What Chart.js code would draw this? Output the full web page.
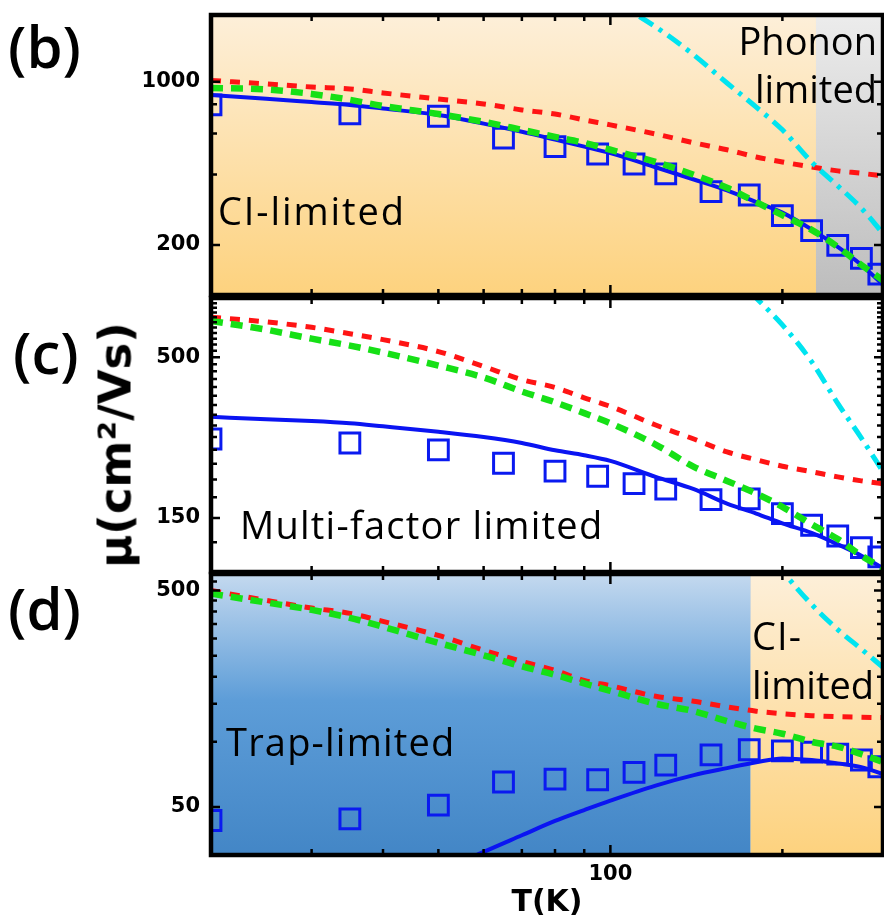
<!DOCTYPE html>
<html>
<head>
<meta charset="utf-8">
<script src="https://cdn.jsdelivr.net/npm/chart.js@4.4.1/dist/chart.umd.min.js"></script>
<style>
  body { margin: 0; background: #fff; }
  #wrap { position: relative; width: 884px; height: 920px; overflow: hidden; background: #fff; }
  canvas { position: absolute; left: 0; }
  .lab { position: absolute; font-family: 'Open Sans', sans-serif; font-size: 38px; line-height: 1; color: #000; white-space: nowrap; }
  .panel { font-size: 58px; font-weight: 600; }
  #ytitle { position: absolute; left: 115px; top: 445px; transform: translate(-50%, -50%) rotate(-90deg);
            font-family: 'DejaVu Sans', sans-serif; font-weight: bold; font-size: 45px; line-height: 1; white-space: nowrap; }
</style>
</head>
<body>
<div id="wrap">
  <canvas id="chartB" width="884" height="300" style="top:0px"></canvas>
  <canvas id="chartC" width="884" height="290" style="top:290px"></canvas>
  <canvas id="chartD" width="884" height="354" style="top:566px"></canvas>

  <div class="lab panel" style="left:8px;top:17px">(b)</div>
  <div class="lab panel" style="left:13px;top:323px">(c)</div>
  <div class="lab panel" style="left:8px;top:579px">(d)</div>
  <div id="ytitle">μ(cm²/Vs)</div>

  <div class="lab" style="left:218px;top:191px;letter-spacing:1.9px">CI-limited</div>
  <div class="lab" style="right:7px;top:21px">Phonon</div>
  <div class="lab" style="right:7px;top:69px">limited</div>
  <div class="lab" style="left:240px;top:505px;letter-spacing:1.25px">Multi-factor limited</div>
  <div class="lab" style="left:226px;top:722px;letter-spacing:1.2px">Trap-limited</div>
  <div class="lab" style="left:752px;top:616px;letter-spacing:1.1px">CI-</div>
  <div class="lab" style="left:752px;top:665px">limited</div>
</div>

<script>
// temperatures (K)
const tMeasured = [20, 35, 50, 65, 80, 95, 110, 125, 150, 175, 200, 225, 250, 275, 295];
const tGrid = [20, 25, 30, 35, 40, 50, 60, 70, 80, 90, 100, 120, 140, 160, 180, 200, 225, 250, 275, 300];
const xTicks = [20, 30, 40, 50, 60, 70, 80, 90, 100, 200, 300];
const xLabels = [100];

// panel (b) - mobility, cm2/Vs
const bMeasured = [795, 728, 711, 573, 527, 490, 444, 403, 338, 327, 267, 230, 199, 175, 150];
const bTotal = [877, 846, 818, 795, 767, 720, 661, 610, 565, 527, 494, 430, 381, 342, 305, 275, 233, 196, 164, 135];
const bGreen = [940, 926, 886, 836, 787, 727, 673, 622, 580, 547, 511, 453, 399, 351, 305, 268, 232, 196, 164, 141];
const bRed = [1012, 978, 949, 931, 895, 843, 803, 757, 727, 686, 653, 597, 547, 511, 476, 453, 431, 415, 405, 395];
const bPhononT = [100, 120, 140, 160, 180, 200, 225, 250, 275, 300];
const bPhonon = [2259, 1717, 1300, 987, 778, 622, 453, 358, 287, 224];
const bTicks = [200, 400, 600, 800, 1000];
const bLabels = [200, 1000];
const bPhononFromT = 229;

// panel (c)
const cMeasured = [271, 263, 250, 226, 213, 205, 194, 186, 172, 173, 155, 142, 131, 120, 112];
const cTotal = [320, 314, 310, 305, 298, 286, 275, 263, 249, 240, 230, 204, 186, 167, 155, 144, 134, 123, 113, 103];
const cGreen = [657, 615, 575, 546, 518, 470, 430, 387, 357, 329, 305, 260, 220, 198, 180, 163, 143, 128, 113, 103];
const cRed = [675, 652, 626, 597, 571, 522, 467, 423, 399, 369, 346, 301, 271, 246, 232, 221, 212, 204, 198, 194];
const cPhononT = [160, 180, 200, 225, 250, 275, 300];
const cPhonon = [980, 780, 638, 484, 354, 273, 212];
const cTicks = [];
for (let v = 100; v <= 775; v += 25) cTicks.push(v);
const cLabels = [150, 500];

// panel (d)
const dMeasured = [43.3, 44.1, 51, 65.2, 67.3, 66.8, 72.3, 78.1, 87, 91.9, 90.9, 89.6, 87.8, 82.4, 76.7];
const dTotalT = [55, 60, 70, 80, 90, 100, 120, 140, 160, 180, 200, 225, 250, 275, 300];
const dTotal = [27.9, 31, 37, 43.1, 48.4, 53.5, 62.8, 70.2, 75.6, 80.5, 83.8, 82.4, 79.5, 76.4, 71];
const dGreen = [484, 440, 407, 374, 340, 286.5, 251, 223, 204, 186, 172, 150, 138.5, 124.6, 115, 109, 100, 95, 87.7, 80.6];
const dRed = [500, 450, 415, 392, 360, 310, 265, 235, 214, 192, 181.6, 162.4, 154, 145, 138.5, 134.9, 132, 130.7, 130, 129.3];
const dPhononT = [180, 200, 225, 250, 275, 300];
const dPhonon = [913, 618, 431, 330, 268, 221];
const dTicks = [50, 100, 150, 200, 250, 300, 350, 400, 450, 500, 550];
const dLabels = [50, 500];
const dTrapToT = 176;

const orange = [[0, '#fdefd9'], [1, '#fdd27e']];
const gray = [[0, '#ececec'], [1, '#bdbdbd']];
const blue = [[0, '#c4d9ef'], [0.45, '#5d9dd8'], [1, '#4386c6']];

const styles = {
    measured: { showLine: false, pointStyle: 'rect', pointRadius: 14, pointBorderWidth: 3,
                pointBorderColor: '#0a1af0', pointBackgroundColor: 'rgba(0,0,0,0)', borderColor: '#0a1af0' },
    total: { borderColor: '#0a14f2', borderWidth: 4 },
    red: { borderColor: '#ff1414', borderWidth: 5, borderDash: [10, 9] },
    green: { borderColor: '#16e016', borderWidth: 6.5, borderDash: [12, 8] },
    phonon: { borderColor: '#00e4f0', borderWidth: 5, borderDash: [16, 7, 4, 7] }
};

function series(ts, vals, style) {
    return Object.assign({
        data: ts.map((t, i) => ({ x: t, y: vals[i] })),
        pointRadius: 0, fill: false, cubicInterpolationMode: 'monotone'
    }, style);
}

// backgrounds under the data, frame and inward ticks on top
const framePlugin = {
    id: 'frame',
    beforeDatasetsDraw(chart, args, opts) {
        const { ctx, chartArea: a, scales: { x } } = chart;
        (opts.zones || []).forEach(z => {
            const x0 = z.from == null ? a.left : x.getPixelForValue(z.from);
            const x1 = z.to == null ? a.right : x.getPixelForValue(z.to);
            const g = ctx.createLinearGradient(0, a.top, 0, a.bottom);
            z.stops.forEach(s => g.addColorStop(s[0], s[1]));
            ctx.fillStyle = g;
            ctx.fillRect(x0, a.top, x1 - x0, a.bottom - a.top);
            if (z.edge) {
                ctx.strokeStyle = z.edge;
                ctx.lineWidth = 1;
                ctx.beginPath();
                ctx.moveTo(x1 + 0.5, a.top);
                ctx.lineTo(x1 + 0.5, a.bottom);
                ctx.stroke();
            }
        });
    },
    afterDatasetsDraw(chart, args, opts) {
        const { ctx, chartArea: a, scales: { x, y } } = chart;
        ctx.save();
        ctx.strokeStyle = '#000';
        ctx.lineWidth = 2.5;
        ctx.beginPath();
        xTicks.forEach(v => {
            const px = x.getPixelForValue(v);
            const len = xLabels.includes(v) ? 10 : 6;
            ctx.moveTo(px, a.bottom); ctx.lineTo(px, a.bottom - len);
            ctx.moveTo(px, a.top); ctx.lineTo(px, a.top + len);
        });
        opts.yTicks.forEach(v => {
            const py = y.getPixelForValue(v);
            const len = opts.yLabels.includes(v) ? 9 : 6;
            ctx.moveTo(a.left, py); ctx.lineTo(a.left + len, py);
            ctx.moveTo(a.right, py); ctx.lineTo(a.right - len, py);
        });
        ctx.stroke();
        ctx.lineWidth = 4.5;
        ctx.strokeRect(a.left, a.top, a.right - a.left, a.bottom - a.top);
        ctx.restore();
    }
};

const tickFont = { family: 'DejaVu Sans', weight: 'bold', size: 21 };

function noPadding(s) {
    s.paddingLeft = 0; s.paddingRight = 0; s.paddingTop = 0; s.paddingBottom = 0;
}

function makePanel(id, p) {
    new Chart(document.getElementById(id), {
        type: 'line',
        data: {
            datasets: [
                series(p.phononT, p.phonon, styles.phonon),
                series(tGrid, p.green, styles.green),
                series(tGrid, p.red, styles.red),
                series(p.totalT || tGrid, p.total, styles.total),
                series(tMeasured, p.measured, styles.measured)
            ]
        },
        options: {
            responsive: false,
            animation: false,
            events: [],
            layout: { autoPadding: false, padding: { left: 0, right: 1, top: p.padTop, bottom: p.padBottom } },
            plugins: {
                legend: { display: false },
                tooltip: { enabled: false },
                frame: { zones: p.zones, yTicks: p.yTicks, yLabels: p.yLabels }
            },
            scales: {
                x: {
                    type: 'logarithmic', min: 20, max: 300,
                    display: p.showX,
                    afterFit: s => { noPadding(s); if (p.showX) s.height = 65; },
                    afterBuildTicks: s => { s.ticks = xLabels.map(v => ({ value: v })); },
                    grid: { display: false, drawTicks: false },
                    border: { display: false },
                    ticks: { autoSkip: false, maxRotation: 0, padding: 7, color: '#000', font: tickFont,
                             callback: v => String(v) },
                    title: { display: true, text: 'T(K)', color: '#000', padding: 0,
                             font: { family: 'DejaVu Sans', weight: 'bold', size: 30, lineHeight: 1.1 } }
                },
                y: {
                    type: 'logarithmic', min: p.yMin, max: p.yMax,
                    afterFit: s => { noPadding(s); s.width = 211; },
                    afterBuildTicks: s => { s.ticks = p.yTicks.map(v => ({ value: v })); },
                    grid: { display: false, drawTicks: false },
                    border: { display: false },
                    ticks: { autoSkip: false, padding: 11, color: '#000', font: tickFont,
                             callback: v => p.yLabels.includes(v) ? String(v) : '' }
                }
            }
        },
        plugins: [framePlugin]
    });
}

makePanel('chartB', {
    measured: bMeasured, total: bTotal, green: bGreen, red: bRed,
    phononT: bPhononT, phonon: bPhonon,
    yMin: 122, yMax: 1930, yTicks: bTicks, yLabels: bLabels,
    padTop: 15, padBottom: 5, showX: false,
    zones: [{ to: bPhononFromT, stops: orange, edge: '#b8b0a0' }, { from: bPhononFromT, stops: gray }]
});

makePanel('chartC', {
    measured: cMeasured, total: cTotal, green: cGreen, red: cRed,
    phononT: cPhononT, phonon: cPhonon,
    yMin: 100, yMax: 780, yTicks: cTicks, yLabels: cLabels,
    padTop: 8, padBottom: 8, showX: false, zones: []
});

makePanel('chartD', {
    measured: dMeasured, total: dTotal, totalT: dTotalT, green: dGreen, red: dRed,
    phononT: dPhononT, phonon: dPhonon,
    yMin: 30, yMax: 596, yTicks: dTicks, yLabels: dLabels,
    padTop: 8, padBottom: 0, showX: true,
    zones: [{ to: dTrapToT, stops: blue, edge: '#9fb4c8' }, { from: dTrapToT, stops: orange }]
});
</script>
</body>
</html>
